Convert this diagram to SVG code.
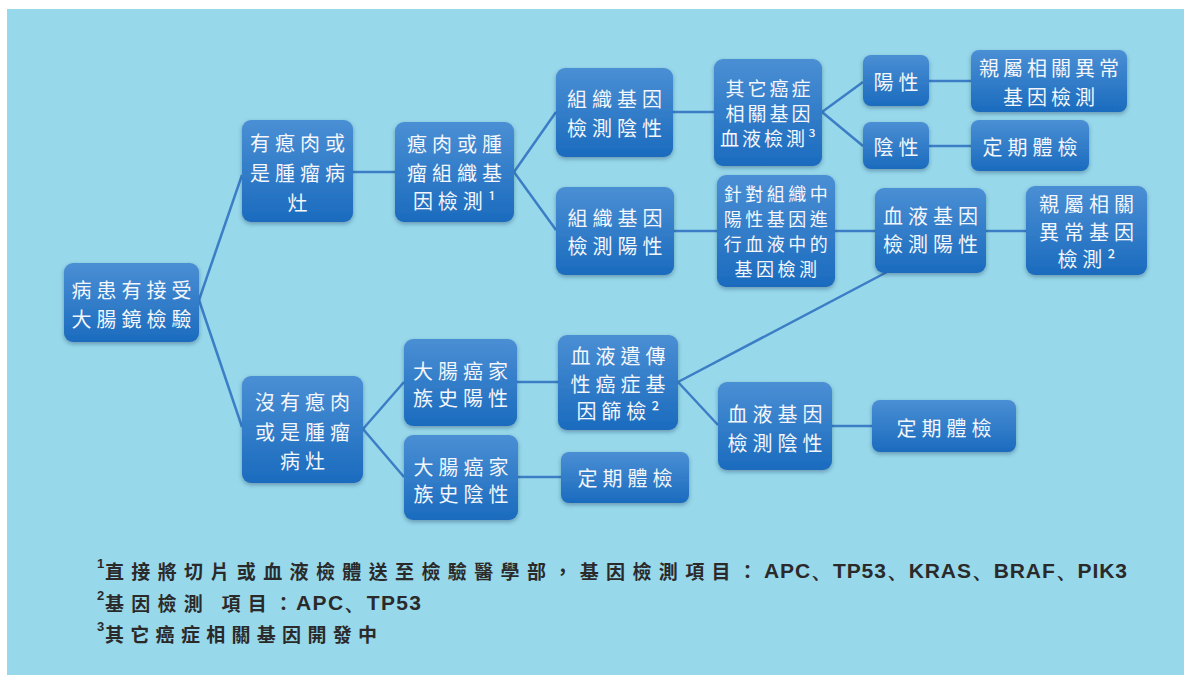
<svg xmlns="http://www.w3.org/2000/svg" width="1184" height="675" viewBox="0 0 1184 675">
<defs>
<linearGradient id="g" x1="0" y1="0" x2="0" y2="1">
<stop offset="0" stop-color="#4A8FD4"/>
<stop offset="1" stop-color="#1B6BBE"/>
</linearGradient>
<filter id="sh" x="-10%" y="-10%" width="120%" height="130%">
<feDropShadow dx="0" dy="2" stdDeviation="2" flood-color="#1a3a5a" flood-opacity="0.4"/>
</filter>
<style>
.box{fill:url(#g);filter:url(#sh);}
.t{font-family:"Noto Sans CJK TC","Noto Sans CJK SC",sans-serif;font-size:20px;fill:#F3F6FB;text-anchor:middle;dominant-baseline:central;letter-spacing:5px;}
.ts{font-size:19px;letter-spacing:3px;}
.tx{font-size:18px;letter-spacing:3.5px;}
.conn path{stroke:#3C7EC6;stroke-width:2.5;fill:none;}
.fn{font-family:"Noto Sans CJK TC","Noto Sans CJK SC",sans-serif;font-size:19px;font-weight:bold;fill:#2A2A2A;dominant-baseline:central;}
.fl{font-family:"Liberation Sans","Noto Sans",sans-serif;font-size:21px;font-weight:bold;fill:#2A2A2A;dominant-baseline:central;}
.sup{font-family:"Liberation Sans","Noto Sans",sans-serif;font-size:13px;font-weight:bold;fill:#2A2A2A;}
</style>
</defs>
<rect x="0" y="0" width="1184" height="675" fill="#FFFFFF"/>
<rect x="7" y="9" width="1177" height="666" fill="#98D8EB"/>
<g id="connectors" class="conn">
<path d="M199,300 L242,175"/>
<path d="M199,300 L242,427"/>
<path d="M353,172 L395,172"/>
<path d="M514,172 L556,112"/>
<path d="M514,172 L556,230"/>
<path d="M673,112 L714,112"/>
<path d="M674,231 L717,231"/>
<path d="M822,112 L863,82"/>
<path d="M822,112 L863,146"/>
<path d="M929,81 L971,81"/>
<path d="M929,146 L971,146"/>
<path d="M835,231 L875,231"/>
<path d="M986,231 L1026,231"/>
<path d="M363,429 L404,382"/>
<path d="M363,429 L404,477"/>
<path d="M517,382 L558,382"/>
<path d="M518,477 L561,477"/>
<path d="M678,382 L887,272"/>
<path d="M678,382 L718,425"/>
<path d="M832,426 L872,426"/>
</g>
<g id="n1"><rect class="box" x="64" y="263" width="135" height="79" rx="9"/><text class="t"><tspan x="134" y="288.5">病患有接受</tspan><tspan x="134" y="317.5">大腸鏡檢驗</tspan></text></g>
<g id="n2"><rect class="box" x="242" y="120" width="111" height="102" rx="9"/><text class="t"><tspan x="300" y="142">有瘜肉或</tspan><tspan x="300" y="172">是腫瘤病</tspan><tspan x="300" y="202">灶</tspan></text></g>
<g id="n3"><rect class="box" x="242" y="376" width="121" height="107" rx="9"/><text class="t"><tspan x="305" y="401">沒有瘜肉</tspan><tspan x="305" y="431">或是腫瘤</tspan><tspan x="305" y="460">病灶</tspan></text></g>
<g id="n4"><rect class="box" x="395" y="122" width="119" height="100" rx="9"/><text class="t"><tspan x="457" y="143">瘜肉或腫</tspan><tspan x="457" y="172">瘤組織基</tspan><tspan x="457" y="200">因檢測¹</tspan></text></g>
<g id="n5"><rect class="box" x="556" y="68" width="117" height="89" rx="9"/><text class="t"><tspan x="617" y="98">組織基因</tspan><tspan x="617" y="127">檢測陰性</tspan></text></g>
<g id="n6"><rect class="box" x="556" y="187" width="118" height="88" rx="9"/><text class="t"><tspan x="617.5" y="217">組織基因</tspan><tspan x="617.5" y="245">檢測陽性</tspan></text></g>
<g id="n7"><rect class="box" x="714" y="59" width="108" height="107" rx="9"/><text class="t ts"><tspan x="769.5" y="87">其它癌症</tspan><tspan x="769.5" y="112">相關基因</tspan><tspan x="769.5" y="137">血液檢測³</tspan></text></g>
<g id="n8"><rect class="box" x="717" y="175" width="118" height="112" rx="9"/><text class="t tx"><tspan x="777.5" y="193">針對組織中</tspan><tspan x="777.5" y="218">陽性基因進</tspan><tspan x="777.5" y="243">行血液中的</tspan><tspan x="777.5" y="268">基因檢測</tspan></text></g>
<g id="n9"><rect class="box" x="863" y="55" width="66" height="51" rx="8"/><text class="t" x="898.5" y="81">陽性</text></g>
<g id="n10"><rect class="box" x="863" y="122" width="66" height="47" rx="8"/><text class="t" x="898.5" y="146">陰性</text></g>
<g id="n11"><rect class="box" x="971" y="50" width="156" height="62" rx="8"/><text class="t" style="letter-spacing:4px"><tspan x="1051" y="67">親屬相關異常</tspan><tspan x="1051" y="96">基因檢測</tspan></text></g>
<g id="n12"><rect class="box" x="971" y="120" width="118" height="51" rx="8"/><text class="t" x="1032.5" y="146">定期體檢</text></g>
<g id="n13"><rect class="box" x="875" y="188" width="111" height="85" rx="9"/><text class="t"><tspan x="933" y="215">血液基因</tspan><tspan x="933" y="243">檢測陽性</tspan></text></g>
<g id="n14"><rect class="box" x="1026" y="186" width="121" height="89" rx="9"/><text class="t"><tspan x="1089" y="203">親屬相關</tspan><tspan x="1089" y="231">異常基因</tspan><tspan x="1089" y="258">檢測²</tspan></text></g>
<g id="n15"><rect class="box" x="404" y="339" width="113" height="87" rx="9"/><text class="t"><tspan x="463" y="370">大腸癌家</tspan><tspan x="463" y="397">族史陽性</tspan></text></g>
<g id="n16"><rect class="box" x="404" y="435" width="114" height="85" rx="9"/><text class="t"><tspan x="463.5" y="466">大腸癌家</tspan><tspan x="463.5" y="493">族史陰性</tspan></text></g>
<g id="n17"><rect class="box" x="558" y="335" width="120" height="95" rx="9"/><text class="t"><tspan x="620.5" y="355">血液遺傳</tspan><tspan x="620.5" y="383">性癌症基</tspan><tspan x="620.5" y="410">因篩檢²</tspan></text></g>
<g id="n18"><rect class="box" x="718" y="382" width="114" height="88" rx="9"/><text class="t"><tspan x="777.5" y="413">血液基因</tspan><tspan x="777.5" y="442">檢測陰性</tspan></text></g>
<g id="n19"><rect class="box" x="872" y="400" width="144" height="52" rx="8"/><text class="t" x="946.5" y="427">定期體檢</text></g>
<g id="n20"><rect class="box" x="561" y="452" width="128" height="51" rx="8"/><text class="t" x="627.5" y="477">定期體檢</text></g>
<g id="footnotes">
<text class="sup" x="97" y="568">1</text>
<text class="fn" x="105" y="570" textLength="652" lengthAdjust="spacing">直接將切片或血液檢體送至檢驗醫學部，基因檢測項目：</text>
<text class="fl" x="764" y="570" textLength="363" lengthAdjust="spacing">APC、TP53、KRAS、BRAF、PIK3</text>
<text class="sup" x="97" y="600">2</text>
<text class="fn" x="105" y="602" textLength="188" lengthAdjust="spacing">基因檢測 項目：</text>
<text class="fl" x="296" y="602" textLength="125" lengthAdjust="spacing">APC、TP53</text>
<text class="sup" x="97" y="631">3</text>
<text class="fn" x="105" y="633" textLength="272" lengthAdjust="spacing">其它癌症相關基因開發中</text>
</g>
</svg>
